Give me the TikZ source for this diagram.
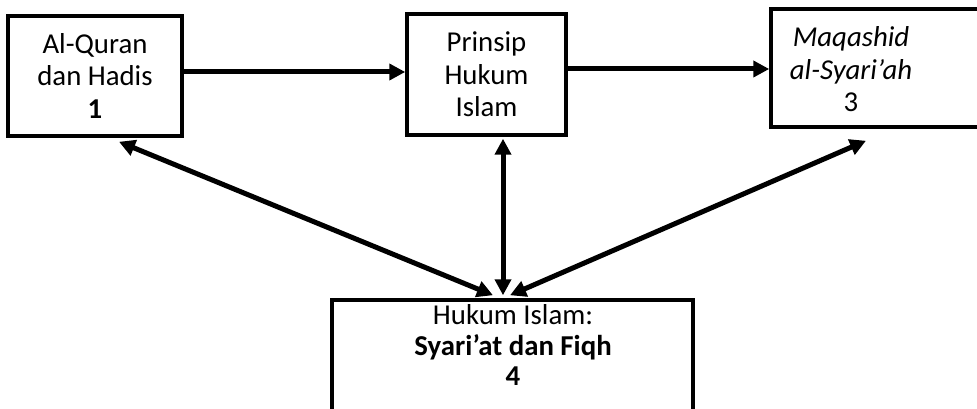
\documentclass[tikz,border=0pt]{standalone}
\usepackage{fontspec}
\setmainfont{Carlito}
\usetikzlibrary{arrows.meta,calc}
\tikzset{
  box/.style={draw=black, line width=3.5pt, rectangle, inner sep=0pt, align=center},
  txt/.style={inner sep=0pt, align=center},
  arr/.style={line width=5pt, -{Triangle[length=16pt,width=16pt]}},
  darr/.style={line width=5pt, {Triangle[length=16pt,width=16pt]}-{Triangle[length=16pt,width=16pt]}}
}
\begin{document}
\begin{tikzpicture}[x=1pt,y=-1pt,font=\fontsize{28.8}{32.5}\selectfont]
\clip (0,0) rectangle (977,409);
\fill[white] (0,0) rectangle (977,409);
% boxes
\node[box, minimum width=174pt, minimum height=120pt] (b1) at (95,76) {Al-Quran\\dan Hadis\\\textbf{1}};
\node[box, minimum width=159pt, minimum height=121pt] (b2) at (486.5,74.5) {Prinsip\\Hukum\\Islam};
\node[box, minimum width=224pt, minimum height=118pt] (b3) at (883,68) {};
\node[txt] (t3) at (851,69.5) {\textit{Maqashid}\\\textit{al-Syari’ah}\\3};
\node[box, minimum width=361pt, minimum height=130pt] (b4) at (512.5,365) {};
\node[txt, font=\fontsize{28.8}{30.5}\selectfont] (t4) at (513,345) {Hukum Islam:\\\textbf{Syari’at dan Fiqh}\\\textbf{4}};
% connectors
\draw[arr] ([yshift=4pt]b1.east) -- ([yshift=4pt]b1.east -| b2.west);
\draw[arr] ([yshift=5.5pt]b2.east) -- ([yshift=5.5pt]b2.east -| b3.west);
\draw[darr] ([xshift=-9.5pt,yshift=3pt]b4.north) -- ([xshift=16.5pt,yshift=-2pt]b2.south);
\draw[darr] ([xshift=-19.5pt,yshift=3pt]b4.north) -- ([xshift=24pt,yshift=-4pt]b1.south);
\draw[darr] ([xshift=-2.5pt,yshift=3pt]b4.north) -- ([xshift=-17pt,yshift=-12pt]b3.south);
\end{tikzpicture}
\end{document}
